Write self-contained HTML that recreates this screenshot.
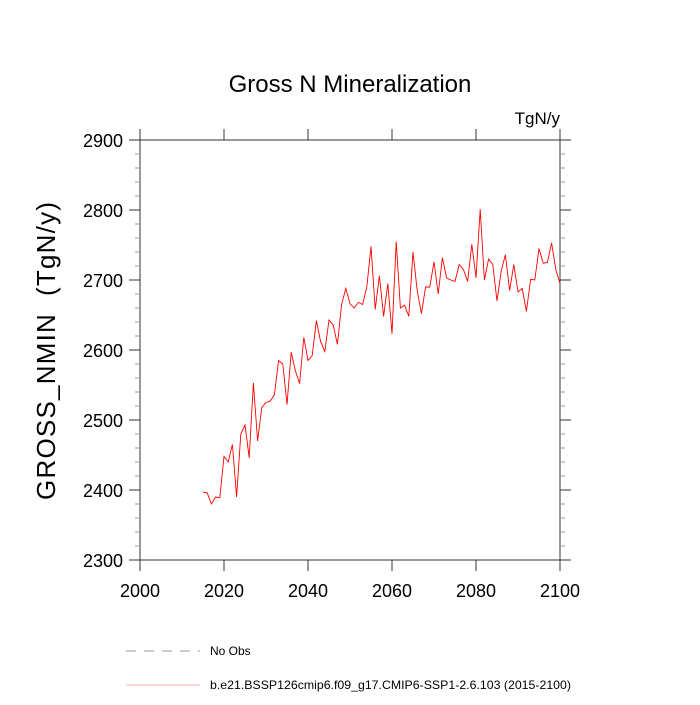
<!DOCTYPE html>
<html><head><meta charset="utf-8"><style>
body{margin:0;background:#fff;}
svg text{font-family:"Liberation Sans",sans-serif;}
</style></head><body>
<svg id="chart" width="700" height="700" xmlns="http://www.w3.org/2000/svg">
<text x="350" y="92" font-size="24" text-anchor="middle">Gross N Mineralization</text>
<text x="560" y="124" font-size="17" text-anchor="end">TgN/y</text>
<text transform="translate(55,351) rotate(-90)" font-size="26" text-anchor="middle" textLength="298" lengthAdjust="spacing" style="white-space:pre">GROSS_NMIN  (TgN/y)</text>
<g id="axes"></g>
<g id="series"></g>
<g>
<line x1="126" y1="651" x2="200" y2="651" stroke="#777" stroke-width="0.8" stroke-dasharray="10,8"/>
<text x="210" y="655" font-size="12">No Obs</text>
<line x1="126" y1="685" x2="200" y2="685" stroke="#f55" stroke-width="0.6"/>
<text x="210" y="689" font-size="12" textLength="361" lengthAdjust="spacingAndGlyphs">b.e21.BSSP126cmip6.f09_g17.CMIP6-SSP1-2.6.103 (2015-2100)</text>
</g>
</svg>
<script>
const years=[];for(let y=2015;y<=2100;y++)years.push(y);
const values=[2397,2396,2380,2390,2389,2448,2440,2465,2390,2480,2493,2446,2553,2470,2518,2525,2527,2536,2585,2580,2522,2597,2570,2552,2618,2585,2592,2642,2612,2598,2643,2636,2608,2665,2688,2666,2660,2668,2665,2690,2748,2658,2706,2648,2695,2623,2755,2660,2664,2648,2740,2685,2652,2690,2690,2726,2680,2732,2703,2700,2698,2722,2715,2698,2751,2703,2801,2700,2730,2722,2670,2713,2736,2685,2722,2683,2688,2655,2701,2700,2745,2724,2725,2753,2715,2695];
const xTicks=[2000,2020,2040,2060,2080,2100];
const yTicks=[2300,2400,2500,2600,2700,2800,2900];
const L=140,R=560,T=140,B=560;
const sx=v=>L+(v-2000)/100*(R-L);
const sy=v=>B-(v-2300)/600*(B-T);
const NS="http://www.w3.org/2000/svg";
const ax=document.getElementById('axes');
function mk(tag,attrs,parent){const e=document.createElementNS(NS,tag);for(const k in attrs)e.setAttribute(k,attrs[k]);parent.appendChild(e);return e;}
const frame=mk('rect',{x:L,y:T,width:R-L,height:B-T,fill:'none',stroke:'#333','stroke-width':1},ax);


xTicks.forEach(t=>{
 const x=sx(t);
 const a=mk('line',{x1:x,y1:B,x2:x,y2:B+11,stroke:'#333'},ax);
 
 
 const b=mk('line',{x1:x,y1:T,x2:x,y2:T-11,stroke:'#333'},ax);
 
 
 const tx=mk('text',{x:x,y:B+37,'font-size':18,'text-anchor':'middle'},ax);tx.textContent=t;
 
 
});
for(let v=2300;v<=2900;v+=20){
 const y=sy(v);const major=(v%100===0);const len=major?11:5;
 const a=mk('line',{x1:L,y1:y,x2:L-len,y2:y,stroke:major?'#333':'#999'},ax);
 
 
 const b=mk('line',{x1:R,y1:y,x2:R+len,y2:y,stroke:major?'#333':'#999'},ax);
 
 
}
yTicks.forEach(t=>{
 const tx=mk('text',{x:L-17,y:sy(t)+7,'font-size':18,'text-anchor':'end'},ax);tx.textContent=t;
 
 
});
const pts=years.map((y,i)=>sx(y).toFixed(1)+','+sy(values[i]).toFixed(1)).join(' ');
const line=mk('polyline',{points:pts,fill:'none',stroke:'#f00','stroke-width':0.9},document.getElementById('series'));


</script>
</body></html>
